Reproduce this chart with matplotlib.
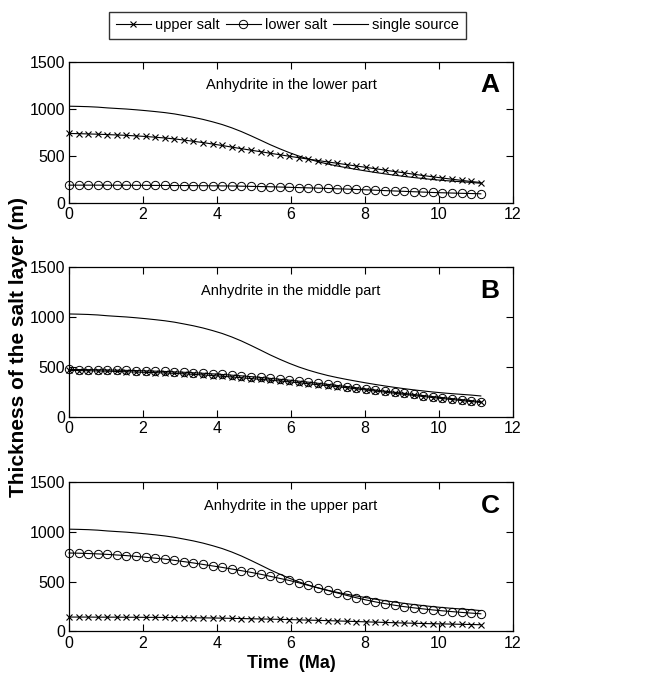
import matplotlib
matplotlib.use('Agg')
import matplotlib.pyplot as plt

plt.rcParams['font.family'] = ['Liberation Sans', 'DejaVu Sans']

# time axis (Ma), one value per marker
time = [0.00, 0.26, 0.52, 0.78, 1.04, 1.29, 1.55, 1.81, 2.07, 2.33, 2.59,
        2.85, 3.11, 3.36, 3.62, 3.88, 4.14, 4.40, 4.66, 4.92, 5.18, 5.43,
        5.69, 5.95, 6.21, 6.47, 6.73, 6.99, 7.25, 7.51, 7.76, 8.02, 8.28,
        8.54, 8.80, 9.06, 9.32, 9.58, 9.83, 10.09, 10.35, 10.61, 10.87, 11.13]

single_source = [1030, 1028, 1025, 1020, 1012, 1006, 1000, 992, 983, 973, 962,
                 948, 930, 912, 890, 864, 835, 800, 760, 715, 668, 622,
                 578, 537, 500, 468, 440, 415, 394, 375, 358, 341, 325,
                 310, 296, 283, 271, 260, 250, 241, 233, 226, 219, 210]

# A: anhydrite in the lower part
upper_a = [740, 738, 735, 732, 728, 724, 720, 714, 708, 700, 692,
           682, 670, 657, 643, 628, 612, 595, 578, 562, 546, 530,
           514, 498, 482, 467, 452, 437, 423, 408, 394, 380, 365,
           350, 335, 321, 306, 292, 279, 266, 253, 241, 229, 218]
lower_a = [190, 190, 190, 190, 189, 189, 189, 188, 188, 187, 187,
           186, 186, 185, 184, 183, 182, 181, 179, 177, 175, 173,
           170, 167, 164, 161, 158, 155, 151, 148, 144, 140, 136,
           132, 128, 124, 120, 116, 112, 109, 106, 103, 101, 98]

# B: anhydrite in the middle part
upper_b = [465, 464, 462, 460, 458, 455, 452, 449, 446, 443, 440,
           436, 431, 426, 420, 414, 407, 400, 392, 384, 376, 368,
           360, 351, 342, 332, 322, 312, 302, 292, 281, 270, 259,
           248, 237, 226, 215, 204, 194, 184, 174, 164, 154, 145]
lower_b = [475, 474, 473, 472, 470, 468, 466, 464, 461, 458, 455,
           451, 447, 442, 437, 431, 425, 418, 411, 403, 395, 386,
           377, 368, 358, 348, 337, 326, 315, 304, 293, 281, 270,
           258, 247, 236, 225, 214, 204, 194, 184, 174, 164, 152]

# C: anhydrite in the upper part
upper_c = [145, 145, 145, 144, 144, 144, 143, 143, 142, 142, 141,
           140, 139, 138, 137, 136, 134, 132, 130, 128, 126, 124,
           122, 120, 117, 114, 112, 109, 106, 103, 100, 97, 94,
           91, 88, 85, 83, 80, 78, 76, 74, 72, 70, 68]
lower_c = [790, 788, 785, 781, 776, 770, 764, 756, 747, 738, 728,
           716, 703, 690, 675, 660, 645, 629, 612, 595, 576, 556,
           535, 514, 490, 464, 438, 413, 388, 363, 340, 318, 298,
           280, 264, 250, 238, 227, 217, 208, 200, 192, 185, 178]

panels = [
    ('A', 'Anhydrite in the lower part', upper_a, lower_a),
    ('B', 'Anhydrite in the middle part', upper_b, lower_b),
    ('C', 'Anhydrite in the upper part', upper_c, lower_c),
]
positions = [
    [0.1034, 0.7032, 0.6657, 0.2061],
    [0.1034, 0.3904, 0.6657, 0.2193],
    [0.1034, 0.0768, 0.6657, 0.2178],
]

fig = plt.figure(figsize=(6.67, 6.84), dpi=100)

for (letter, note, upper, lower), pos in zip(panels, positions):
    ax = fig.add_axes(pos)
    ax.plot(time, upper, color='black', lw=0.8, marker='x', ms=4.5, mew=0.8,
            label='upper salt', clip_on=False)
    ax.plot(time, lower, color='black', lw=0.8, marker='o', ms=6, mew=0.7,
            mfc='none', label='lower salt', clip_on=False)
    ax.plot(time, single_source, color='black', lw=0.8, label='single source')
    ax.set_xlim(0, 12)
    ax.set_ylim(0, 1500)
    ax.set_xticks([0, 2, 4, 6, 8, 10, 12])
    ax.set_yticks([0, 500, 1000, 1500])
    ax.tick_params(direction='in', top=True, right=True, labelsize=11.5,
                   length=5, width=0.8, pad=3)
    for s in ax.spines.values():
        s.set_linewidth(0.9)
    ax.text(0.5, 0.84, note, transform=ax.transAxes, ha='center', va='center',
            fontsize=10.5)
    ax.text(0.97, 0.84, letter, transform=ax.transAxes, ha='right', va='center',
            fontsize=19, fontweight='bold')
    if letter == 'A':
        handles, labels = ax.get_legend_handles_labels()
    if letter == 'C':
        ax.set_xlabel('Time  (Ma)', fontsize=13, fontweight='bold',
                      labelpad=3)

fig.legend(handles, labels, loc='center', bbox_to_anchor=(0.431, 0.963),
           ncol=3, fontsize=10.5, frameon=True, fancybox=False,
           edgecolor='black', handlelength=2.4, handletextpad=0.3,
           columnspacing=0.4, borderpad=0.45, borderaxespad=0)
fig.text(0.027, 0.493, 'Thickness of the salt layer (m)', rotation=90,
         ha='center', va='center', fontsize=15, fontweight='bold')

fig.savefig('out.png', dpi=100)
